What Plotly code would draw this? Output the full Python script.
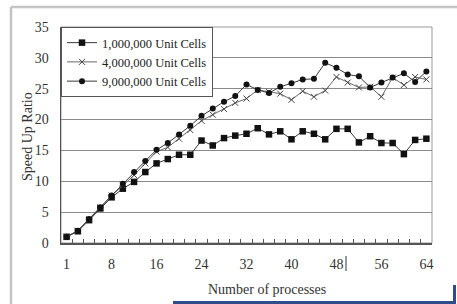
import plotly.graph_objects as go

processes = ["1"] + [str(v) for v in range(2, 65, 2)]
tick_labels = ["1", "8", "16", "24", "32", "40", "48", "56", "64"]

speedup_1m = [1.0, 1.9, 3.7, 5.6, 7.4, 8.8, 9.9, 11.5, 12.9, 13.6, 14.3, 14.3, 16.6, 15.8, 17.0, 17.4,
              17.7, 18.6, 17.6, 18.1, 16.8, 18.1, 17.7, 16.8, 18.5, 18.5, 16.3, 17.3, 16.2, 16.2, 14.4, 16.7, 16.9]
speedup_4m = [1.0, 2.0, 3.9, 5.8, 7.7, 9.3, 11.0, 12.9, 14.8, 15.5, 16.9, 18.3, 19.8, 20.8, 21.7, 22.7,
              23.4, 24.8, 24.5, 24.2, 23.2, 24.6, 23.7, 24.7, 26.9, 26.0, 25.2, 25.3, 23.7, 26.8, 25.6, 26.9, 26.5]
speedup_9m = [1.0, 2.0, 3.9, 5.8, 7.7, 9.6, 11.5, 13.3, 15.1, 16.2, 17.6, 19.0, 20.6, 21.8, 22.9, 23.8,
              25.7, 24.8, 24.3, 25.3, 25.9, 26.5, 26.6, 29.2, 28.4, 27.3, 27.0, 25.2, 26.0, 26.8, 27.5, 26.1, 27.8]

series_names = ["1,000,000 Unit Cells", "4,000,000 Unit Cells", "9,000,000 Unit Cells"]

W, H = 457, 304
L, R, T, B = 61, 25, 27, 61
pw, ph = W - L - R, H - T - B


def px(x):
    return (x - L) / pw


def py(y):
    return (H - B - y) / ph


SERIF = "Liberation Serif, Times New Roman, serif"

fig = go.Figure()
fig.add_trace(go.Scatter(x=processes, y=speedup_1m, name=series_names[0], mode="lines+markers",
                         line=dict(color="#3a3a3a", width=1),
                         marker=dict(symbol="square", size=6.5, color="#111111")))
fig.add_trace(go.Scatter(x=processes, y=speedup_4m, name=series_names[1], mode="lines+markers",
                         line=dict(color="#6a6a6a", width=1),
                         marker=dict(symbol="x-thin", size=6, color="#444444",
                                     line=dict(color="#444444", width=1))))
fig.add_trace(go.Scatter(x=processes, y=speedup_9m, name=series_names[2], mode="lines+markers",
                         line=dict(color="#3a3a3a", width=1),
                         marker=dict(symbol="circle", size=6, color="#111111")))

ticktext = [p if p in tick_labels else "" for p in processes]

fig.update_layout(
    width=W, height=H,
    margin=dict(l=L, r=R, t=T, b=B, pad=0, autoexpand=False),
    paper_bgcolor="white", plot_bgcolor="white",
    font=dict(family=SERIF, color="#333333", size=13),
    showlegend=True,
    hovermode=False,
    legend=dict(x=0, y=1, xanchor="left", yanchor="top", bgcolor="white",
                bordercolor="#555555", borderwidth=1,
                font=dict(size=12.5, color="#222222", family=SERIF),
                tracegroupgap=0, itemwidth=30),
    xaxis=dict(type="category", categoryorder="array", categoryarray=processes,
               range=[-0.5, len(processes) - 0.5],
               tickmode="array", tickvals=processes, ticktext=ticktext, tickangle=0,
               tickson="boundaries", ticks="inside", ticklen=4, tickcolor="#555555",
               showgrid=False, showline=True, linecolor="#555555", linewidth=1.5,
               mirror=False, ticklabelstandoff=8, tickfont=dict(size=14),
               zeroline=False, automargin=False),
    yaxis=dict(range=[0, 35], tickmode="array", tickvals=[0, 5, 10, 15, 20, 25, 30, 35],
               showgrid=True, gridcolor="#8a8a8a", gridwidth=1,
               showline=True, linecolor="#555555", linewidth=1.5,
               ticks="", tickfont=dict(size=14), ticklabelstandoff=8, zeroline=False,
               automargin=False),
)

# plot area frame (right/top)
fig.add_shape(type="rect", xref="paper", yref="paper", x0=0, x1=1, y0=0, y1=1,
              line=dict(color="#999999", width=1), layer="below")

fig.add_annotation(text="Speed Up Ratio", xref="paper", yref="paper", x=px(27), y=py(137),
                   xanchor="center", yanchor="middle",
                   textangle=-90, showarrow=False, font=dict(size=14, color="#333333"))
fig.add_annotation(text="Number of processes", xref="paper", yref="paper", x=px(267), y=py(289),
                   xanchor="center", yanchor="middle",
                   showarrow=False, font=dict(size=14, color="#333333"))

# text cursor mark next to "48"
fig.add_shape(type="line", xref="paper", yref="paper", x0=px(346), x1=px(346), y0=py(256), y1=py(271),
              line=dict(color="#333333", width=1))

# outer gray frame
fig.add_shape(type="line", xref="paper", yref="paper", x0=px(11), x1=px(457), y0=py(7), y1=py(7),
              line=dict(color="#c4c4c4", width=2.5))
fig.add_shape(type="line", xref="paper", yref="paper", x0=px(11), x1=px(11), y0=py(7), y1=py(304),
              line=dict(color="#c4c4c4", width=2.5))

# blue bracket at bottom right
fig.add_shape(type="line", xref="paper", yref="paper", x0=px(173), x1=px(455), y0=py(302.5), y1=py(302.5),
              line=dict(color="#2f4d8a", width=3))
fig.add_shape(type="line", xref="paper", yref="paper", x0=px(454.5), x1=px(454.5), y0=py(285), y1=py(304),
              line=dict(color="#2f4d8a", width=3))

fig.write_html("out.html",
               config={"displayModeBar": False, "staticPlot": True},
               post_script="document.body.style.margin='0';document.body.style.overflow='hidden';")
